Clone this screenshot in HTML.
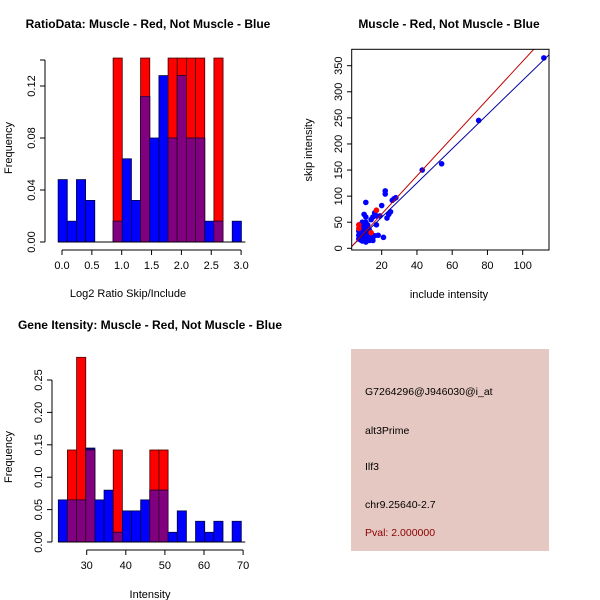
<!DOCTYPE html>
<html><head><meta charset="utf-8"><style>
body{margin:0;background:#fff;width:600px;height:600px;overflow:hidden}
svg{position:absolute;left:0;top:0;font-family:"Liberation Sans",sans-serif}
</style></head><body>
<svg id="c" width="600" height="600"></svg>
<script>
// ---- data ----
const ratioBinStart = -0.065, ratioBinWidth = 0.1535;
const ratioBlue = [0.048,0.016,0.048,0.032,0,0,0.016,0.064,0.032,0.112,0.08,0.128,0.08,0.128,0.08,0.08,0.016,0.016,0,0.016];
const ratioRed  = [0,0,0,0,0,0,0.1415,0,0,0.1415,0,0,0.1415,0.1415,0.1415,0.1415,0,0.1415,0,0];
const ratioXTicks = [0,0.5,1,1.5,2,2.5,3];
const ratioYTicks = [0,0.04,0.08,0.12];
const intBinStart = 22.74, intBinWidth = 2.34;
const intBlue = [0.065,0.065,0.065,0.145,0.065,0.08,0.015,0.048,0.048,0.065,0.08,0.08,0.015,0.048,0,0.032,0.015,0.032,0,0.032];
const intRed  = [0,0.142,0.285,0.142,0,0,0.142,0,0,0,0.142,0.142,0,0,0,0,0,0,0,0];
const intXTicks = [30,40,50,60,70];
const intYTicks = [0,0.05,0.10,0.15,0.20,0.25];
const scatBlueX = [112,75,54,43,28,27,26,25,24,23,22,22,21,20,17,17,16,15,15,14,14,13,13,12,12,11,11,11,10,10,10,10,9,9,9,9,8,8,8,8,7,7,7,12,13,14,16,18,19,11,9,10,12,15,8];
const scatBlueY = [365,245,162,150,97,95,92,70,65,58,110,104,21,82,45,62,68,60,25,55,18,35,15,45,22,88,60,12,65,40,30,20,50,38,25,14,42,30,20,16,33,18,25,30,28,22,24,25,62,50,45,35,40,15,28];
const scatRedX = [7,7,17,14];
const scatRedY = [45,38,73,30];
const blueFit = [-6, 3.28];
const redFit = [-7.5, 3.66];
const scatXTicks = [20,40,60,80,100];
const scatYTicks = [0,50,100,150,200,250,300,350];

const NS="http://www.w3.org/2000/svg", svg=document.getElementById('c');
function el(tag,attrs,parent){const e=document.createElementNS(NS,tag);for(const k in attrs)e.setAttribute(k,attrs[k]);(parent||svg).appendChild(e);return e;}
function txt(x,y,s,size,anchor,rot,fill,weight){const t=el('text',{x:x,y:y,'font-size':size,'text-anchor':anchor||'middle',fill:fill||'#000'});if(weight)t.setAttribute('font-weight',weight);if(rot)t.setAttribute('transform','rotate(-90 '+x+' '+y+')');t.textContent=s;return t;}

function hist(o){
  const g=el('g',{});
  
  
  const sx=v=>o.x0+(v-o.xv0)*o.kx, sy=v=>o.y0-v*o.ky;
  for(let i=0;i<o.blue.length;i++){
    const a=sx(o.start+i*o.w), b=sx(o.start+(i+1)*o.w), r=o.red[i], bl=o.blue[i];
    if(r>0){const e=el('rect',{x:a,y:sy(r),width:b-a,height:sy(0)-sy(r),fill:'#ff0000',stroke:'#400000','stroke-width':0.8},g);
      }
    if(bl>0){const e=el('rect',{x:a,y:sy(bl),width:b-a,height:sy(0)-sy(bl),fill:r>0?'#000080':'#0000ff',stroke:'#000040','stroke-width':0.8},g);
      }
    if(r>0&&bl>0){const m=Math.min(r,bl);const e=el('rect',{x:a,y:sy(m),width:b-a,height:sy(0)-sy(m),fill:'#800080',stroke:'#300030','stroke-width':0.8},g);
      }
  }
  // y axis
  const yt=o.yticks;
  el('line',{x1:o.ax,y1:sy(yt[0]),x2:o.ax,y2:sy(yt[yt.length-1]),stroke:'#000'},g);
  yt.forEach(v=>{el('line',{x1:o.ax-5,y1:sy(v),x2:o.ax,y2:sy(v),stroke:'#000'},g);txt(o.ax-10,sy(v),o.yfmt(v),11,'middle',true);});
  if(o.ymax) {el('line',{x1:o.ax,y1:sy(yt[yt.length-1]),x2:o.ax,y2:sy(o.ymax),stroke:'#000'},g);el('line',{x1:o.ax-5,y1:sy(o.ymax),x2:o.ax,y2:sy(o.ymax),stroke:'#000'},g);}
  // baseline
  el('line',{x1:sx(o.start),y1:o.y0,x2:sx(o.start+o.w*o.blue.length)+4,y2:o.y0,stroke:'#000'},g);
  const xt=o.xticks;
  el('line',{x1:sx(xt[0]),y1:o.xay,x2:sx(xt[xt.length-1]),y2:o.xay,stroke:'#000'},g);
  xt.forEach(v=>{el('line',{x1:sx(v),y1:o.xay,x2:sx(v),y2:o.xay+5,stroke:'#000'},g);txt(sx(v),o.xay+19,o.xfmt(v),11);});
}
hist({name:'ratio-histogram',x0:62,xv0:0,kx:59.7,y0:242,ky:1300,start:ratioBinStart,w:ratioBinWidth,blue:ratioBlue,red:ratioRed,
  yticks:ratioYTicks,ymax:0.14,ax:45,yfmt:v=>v.toFixed(2),xticks:ratioXTicks,xay:250,xfmt:v=>v.toFixed(1)});
hist({name:'intensity-histogram',x0:86.7,xv0:30,kx:3.91,y0:542,ky:648,start:intBinStart,w:intBinWidth,blue:intBlue,red:intRed,
  yticks:intYTicks,ax:52,yfmt:v=>v.toFixed(2),xticks:intXTicks,xay:550,xfmt:v=>String(v)});

txt(148,28,'RatioData: Muscle - Red, Not Muscle - Blue',12,'middle',false,'#000','bold');
txt(128,297,'Log2 Ratio Skip/Include',11);
txt(12,148,'Frequency',11,'middle',true);
txt(150,329,'Gene Itensity: Muscle - Red, Not Muscle - Blue',12,'middle',false,'#000','bold');
txt(150,598,'Intensity',11);
txt(12,457,'Frequency',11,'middle',true);

// scatter
const sg=el('g',{});


const px=v=>381.7+(v-20)*1.7625, py=v=>248.3-v*0.5217;
const clip=el('clipPath',{id:'cl'},sg);el('rect',{x:352,y:49,width:197,height:201},clip);
scatBlueX.forEach((x,i)=>{const c=el('circle',{cx:px(x),cy:py(scatBlueY[i]),r:2.8,fill:'#0000ff'},sg);});
scatRedX.forEach((x,i)=>{const c=el('circle',{cx:px(x),cy:py(scatRedY[i]),r:2.8,fill:'#ff0000'},sg);});
const lg=el('g',{'clip-path':'url(#cl)'},sg);
const bl=el('line',{x1:px(0),y1:py(blueFit[0]),x2:px(120),y2:py(blueFit[0]+blueFit[1]*120),stroke:'#0000a0','stroke-width':1},lg);

const rl=el('line',{x1:px(0),y1:py(redFit[0]),x2:px(120),y2:py(redFit[0]+redFit[1]*120),stroke:'#c00000','stroke-width':1},lg);

el('rect',{x:351.7,y:49.3,width:197.3,height:200.7,fill:'none',stroke:'#000'},sg);
scatXTicks.forEach(v=>{el('line',{x1:px(v),y1:250,x2:px(v),y2:255,stroke:'#000'},sg);txt(px(v),269,String(v),11);});
scatYTicks.forEach(v=>{el('line',{x1:347,y1:py(v),x2:351.7,y2:py(v),stroke:'#000'},sg);txt(342,py(v),String(v),11,'middle',true);});
txt(449,28,'Muscle - Red, Not Muscle - Blue',12,'middle',false,'#000','bold');
txt(449,298,'include intensity',11);
txt(312,150,'skip intensity',11,'middle',true);

// info panel
const ig=el('g',{});


el('rect',{x:351,y:349,width:198,height:202,fill:'#e6c8c2'},ig);
[['G7264296@J946030@i_at',395,'#000'],['alt3Prime',434,'#000'],['Ilf3',470,'#000'],['chr9.25640-2.7',508,'#000'],['Pval: 2.000000',536,'#8b0000']].forEach(a=>{txt(365,a[1],a[0],10.5,'start',false,a[2]);});
</script>
</body></html>
